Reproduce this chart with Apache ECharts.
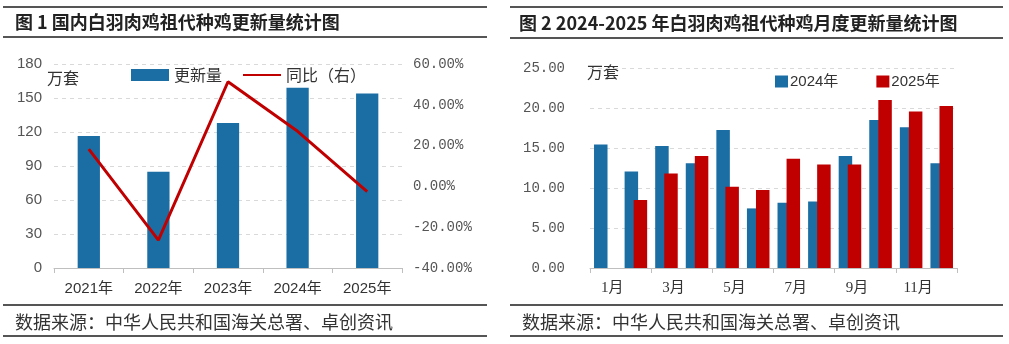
<!DOCTYPE html>
<html>
<head>
<meta charset="utf-8">
<script src="https://cdn.jsdelivr.net/npm/echarts@6/dist/echarts.min.js"></script>
<style>
  html, body { margin: 0; padding: 0; background: #fff; }
  #c { width: 1009px; height: 344px; }
</style>
</head>
<body>
<div id="c"></div>
<script>
// ---- Figure 1 data ----
const yearCats = ['2021年', '2022年', '2023年', '2024年', '2025年'];
const renewal = [116.5, 85, 128, 159, 154];          // 万套
const yoyPct = [18.3, -26.3, 51.3, 27, -2.6];        // %
const leftAxisRange = [0, 180, 30];
const rightAxisRange = [-40, 60, 20];

// ---- Figure 2 data ----
const months = ['1月', '2月', '3月', '4月', '5月', '6月', '7月', '8月', '9月', '10月', '11月', '12月'];
const v2024 = [15.45, 12.05, 15.25, 13.1, 17.25, 7.45, 8.15, 8.3, 14.0, 18.5, 17.6, 13.1];
const v2025 = [null, 8.5, 11.8, 14.0, 10.15, 9.75, 13.65, 12.95, 12.95, 21.0, 19.55, 20.25];
const monthAxisRange = [0, 25, 5];

// ---- Text ----
const title1 = '图 1 国内白羽肉鸡祖代种鸡更新量统计图';
const title2 = '图 2 2024-2025 年白羽肉鸡祖代种鸡月度更新量统计图';
const sourceText = '数据来源：中华人民共和国海关总署、卓创资讯';
const unitText = '万套';

const BLUE = '#1B6EA4';
const RED = '#C00000';
const CJK = '"Noto Sans CJK SC", "Liberation Sans", sans-serif';

function hline(x1, x2, y) {
  return { type: 'line', shape: { x1: x1, y1: y, x2: x2, y2: y }, style: { stroke: '#555', lineWidth: 2 }, silent: true };
}
function txt(x, y, s, size, weight, color, align) {
  return { type: 'text', x: x, y: y, silent: true,
    style: { text: s, font: (weight || 'normal') + ' ' + size + 'px ' + CJK, fill: color || '#222', textAlign: align || 'left', textVerticalAlign: 'middle' } };
}

const chart = echarts.init(document.getElementById('c'), null, { renderer: 'canvas' });

const option = {
  backgroundColor: '#fff',
  animation: false,
  graphic: [
    hline(3, 487, 7), hline(3, 487, 37), hline(3, 487, 305), hline(3, 487, 336),
    hline(510, 1003, 7), hline(510, 1003, 38), hline(510, 1003, 305), hline(510, 1003, 336),
    txt(15, 22, title1, 18, 'bold', '#222'),
    txt(519, 23, title2, 18, 'bold', '#222'),
    txt(15, 322, sourceText, 18, 'normal', '#333'),
    txt(522, 322, sourceText, 18, 'normal', '#333'),
    txt(47, 78, unitText, 16, 'normal', '#333'),
    txt(587, 72, unitText, 16, 'normal', '#333')
  ],
  legend: [
    {
      left: 126, top: 62,
      itemWidth: 38, itemHeight: 12, itemGap: 20,
      textStyle: { fontSize: 16, color: '#333', fontFamily: CJK },
      data: [
        { name: '更新量', icon: 'rect' },
        { name: '同比（右）', itemStyle: { opacity: 0 } }
      ]
    },
    {
      left: 770, top: 69,
      itemWidth: 13, itemHeight: 12, itemGap: 38,
      textStyle: { fontSize: 15, color: '#333', fontFamily: '"Liberation Sans", ' + CJK, padding: [0, 0, 0, -3] },
      data: [
        { name: '2024年', icon: 'rect' },
        { name: '2025年', icon: 'rect' }
      ]
    }
  ],
  grid: [
    { left: 54, width: 348, top: 64, height: 204 },
    { left: 590, width: 367, top: 68, height: 200 }
  ],
  xAxis: [
    {
      type: 'category', gridIndex: 0, data: yearCats, boundaryGap: true,
      axisLine: { lineStyle: { color: '#bfbfbf', width: 1 } },
      axisTick: { show: true, alignWithLabel: false, length: 5, lineStyle: { color: '#bfbfbf' } },
      axisLabel: { margin: 13, fontSize: 15, color: '#333', fontFamily: '"Liberation Sans", ' + CJK }
    },
    {
      type: 'category', gridIndex: 1, data: months, boundaryGap: true,
      axisLine: { lineStyle: { color: '#bfbfbf', width: 1 } },
      axisTick: { show: true, interval: 1, length: 5, lineStyle: { color: '#bfbfbf' } },
      axisLabel: { interval: 1, margin: 13, fontSize: 15, color: '#333', padding: [0, 0, 0, 14],
        fontFamily: '"Liberation Serif", ' + CJK }
    }
  ],
  yAxis: [
    {
      type: 'value', gridIndex: 0, min: leftAxisRange[0], max: leftAxisRange[1], interval: leftAxisRange[2],
      axisLine: { show: false }, axisTick: { show: false },
      splitLine: { show: true, lineStyle: { color: '#d9d9d9', type: [4, 4] } },
      axisLabel: { margin: 12, fontSize: 15, color: '#555', fontFamily: '"Liberation Sans", sans-serif' }
    },
    {
      type: 'value', gridIndex: 0, position: 'right', min: rightAxisRange[0], max: rightAxisRange[1], interval: rightAxisRange[2],
      axisLine: { show: false }, axisTick: { show: false }, splitLine: { show: false },
      axisLabel: { margin: 11, fontSize: 14, color: '#555', fontFamily: '"Liberation Mono", monospace',
        formatter: function (v) { return v.toFixed(2) + '%'; } }
    },
    {
      type: 'value', gridIndex: 1, min: monthAxisRange[0], max: monthAxisRange[1], interval: monthAxisRange[2],
      axisLine: { show: false }, axisTick: { show: false },
      splitLine: { show: true, lineStyle: { color: '#d9d9d9', type: [4, 4] } },
      axisLabel: { margin: 25, fontSize: 14, color: '#555', fontFamily: '"Liberation Mono", monospace',
        formatter: function (v) { return v.toFixed(2); } }
    }
  ],
  series: [
    {
      name: '更新量', type: 'bar', xAxisIndex: 0, yAxisIndex: 0, data: renewal,
      barWidth: '32%', itemStyle: { color: BLUE }
    },
    {
      name: '同比（右）', type: 'line', xAxisIndex: 0, yAxisIndex: 1, data: yoyPct,
      symbol: 'none', lineStyle: { color: RED, width: 3 }, itemStyle: { color: RED }
    },
    {
      name: '2024年', type: 'bar', xAxisIndex: 1, yAxisIndex: 2, data: v2024,
      barWidth: 13.5, barGap: '-33%', itemStyle: { color: BLUE }
    },
    {
      name: '2025年', type: 'bar', xAxisIndex: 1, yAxisIndex: 2, data: v2025,
      barWidth: 13.5, barGap: '-33%', itemStyle: { color: RED }
    }
  ]
};

chart.setOption(option);
</script>
</body>
</html>
